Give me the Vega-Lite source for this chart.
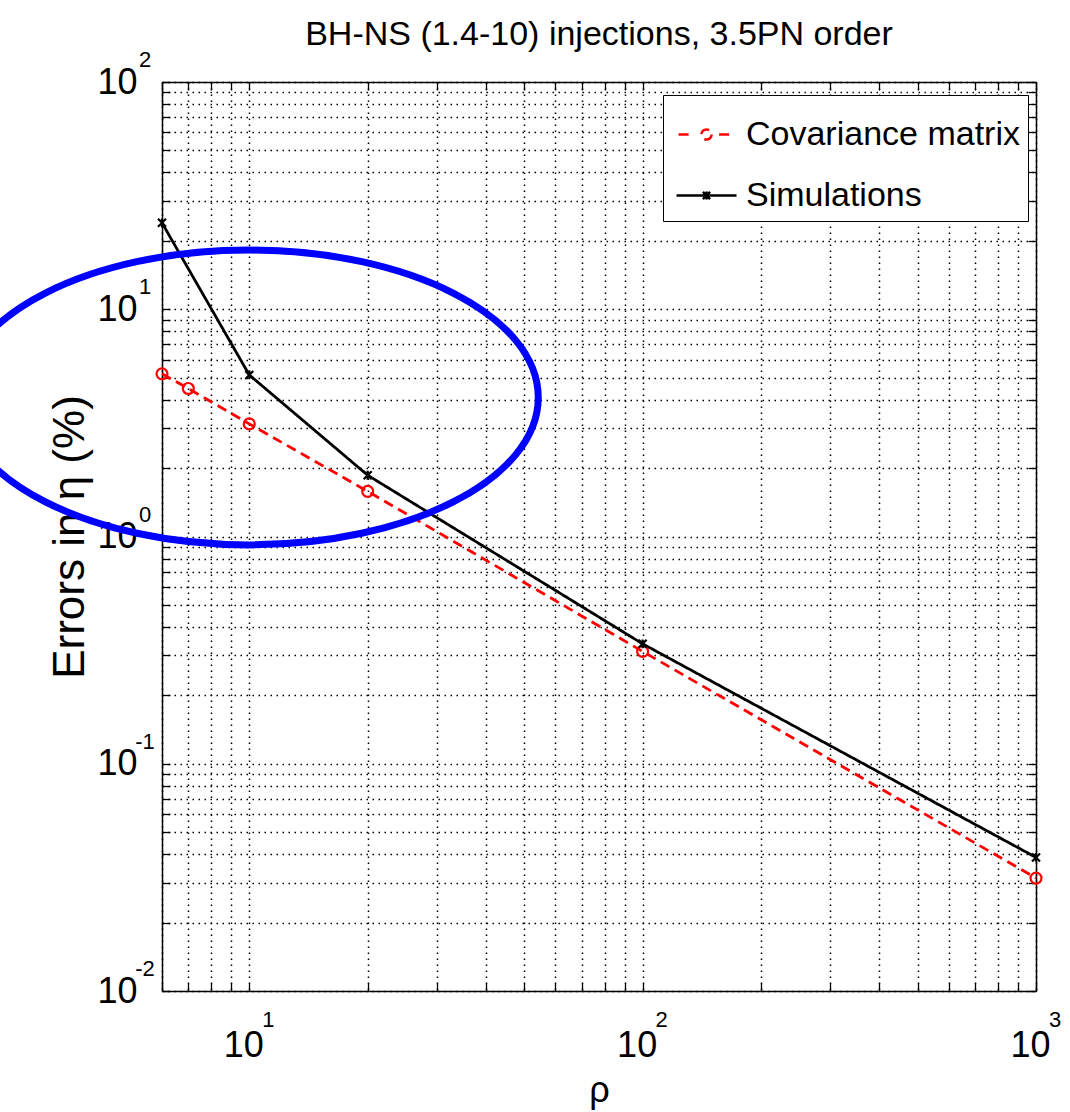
{
  "$schema": "https://vega.github.io/schema/vega-lite/v6.json",
  "autosize": "none",
  "width": 874,
  "height": 909,
  "padding": {"left": 162, "top": 82, "right": 34, "bottom": 121},
  "background": "white",
  "title": {"text": "BH-NS (1.4-10) injections, 3.5PN order", "font": "Liberation Sans", "fontSize": 34, "fontWeight": "normal", "color": "black", "anchor": "middle", "frame": "group", "baseline": "bottom", "offset": 26, "dy": 63},
  "config": {
    "view": {"stroke": null},
    "font": "Liberation Sans",
    "axis": {"labelFont": "Liberation Sans", "titleFont": "Liberation Sans", "labelColor": "black", "titleColor": "black", "titleFontWeight": "normal", "domainColor": "black", "domainWidth": 1.5, "tickColor": "black", "tickWidth": 1.3, "gridColor": "black", "gridOpacity": 1, "gridDash": [1.5, 4.5], "gridWidth": 1.5},
    "legend": {"labelFont": "Liberation Sans"}
  },
  "datasets": {
    "series": [
      {"rho": 6, "err": 5.2, "series": "Covariance matrix"},
      {"rho": 7, "err": 4.48, "series": "Covariance matrix"},
      {"rho": 10, "err": 3.13, "series": "Covariance matrix"},
      {"rho": 20, "err": 1.58, "series": "Covariance matrix"},
      {"rho": 100, "err": 0.312, "series": "Covariance matrix"},
      {"rho": 1000, "err": 0.0314, "series": "Covariance matrix"},
      {"rho": 6, "err": 24.0, "series": "Simulations"},
      {"rho": 10, "err": 5.14, "series": "Simulations"},
      {"rho": 20, "err": 1.86, "series": "Simulations"},
      {"rho": 100, "err": 0.337, "series": "Simulations"},
      {"rho": 1000, "err": 0.0387, "series": "Simulations"}
    ],
    "xexp": [{"rho": 10, "e": "1"}, {"rho": 100, "e": "2"}, {"rho": 1000, "e": "3"}],
    "yexp": [{"err": 0.01, "e": "-2"}, {"err": 0.1, "e": "-1"}, {"err": 1, "e": "0"}, {"err": 10, "e": "1"}, {"err": 100, "e": "2"}],
    "circle": [{"rho": 10, "err": 4.09}]
  },
  "resolve": {"scale": {"x": "shared", "y": "shared"}, "axis": {"x": "independent", "y": "independent"}},
  "layer": [
    {
      "data": {"name": "series"},
      "mark": {"type": "point", "opacity": 0},
      "encoding": {
        "x": {"field": "rho", "type": "quantitative", "scale": {"type": "log", "domain": [6, 1000], "nice": false},
          "axis": {"orient": "top", "labels": false, "grid": false, "title": null, "values": [6,7,8,9,10,20,30,40,50,60,70,80,90,100,200,300,400,500,600,700,800,900,1000], "tickSize": -8}},
        "y": {"field": "err", "type": "quantitative", "scale": {"type": "log", "domain": [0.01, 100], "nice": false},
          "axis": {"orient": "right", "labels": false, "grid": false, "title": null, "values": [0.01,0.02,0.03,0.04,0.05,0.06,0.07,0.08,0.09,0.1,0.2,0.3,0.4,0.5,0.6,0.7,0.8,0.9,1,2,3,4,5,6,7,8,9,10,20,30,40,50,60,70,80,90,100], "tickSize": -8}}
      }
    },
    {
      "data": {"name": "series"},
      "mark": {"type": "line", "strokeWidth": 2.8},
      "encoding": {
        "x": {"field": "rho", "type": "quantitative",
          "axis": {"orient": "bottom", "grid": true, "title": "ρ", "titleFontSize": 36, "titlePadding": 10, "values": [6,7,8,9,10,20,30,40,50,60,70,80,90,100,200,300,400,500,600,700,800,900,1000], "tickSize": -8, "labelFontSize": 36, "labelPadding": 45, "labelBaseline": "top", "labelOffset": -6, "labelExpr": "indexof([10,100,1000], datum.value) >= 0 ? '10' : ''", "labelOverlap": false, "labelFlush": false}},
        "y": {"field": "err", "type": "quantitative",
          "axis": {"orient": "left", "grid": true, "title": "Errors in η (%)", "titleFontSize": 44, "titlePadding": 4, "values": [0.01,0.02,0.03,0.04,0.05,0.06,0.07,0.08,0.09,0.1,0.2,0.3,0.4,0.5,0.6,0.7,0.8,0.9,1,2,3,4,5,6,7,8,9,10,20,30,40,50,60,70,80,90,100], "tickSize": -8, "labelFontSize": 36, "labelPadding": 33, "labelBaseline": "middle", "labelExpr": "indexof([0.01,0.1,1,10,100], datum.value) >= 0 ? '10' : ''", "labelOverlap": false, "labelFlush": false}},
        "color": {"field": "series", "type": "nominal", "scale": {"domain": ["Covariance matrix", "Simulations"], "range": ["#ff0000", "#000000"]},
          "legend": {"title": null, "orient": "none", "legendX": 501, "legendY": 13, "fillColor": "white", "strokeColor": "black", "padding": 8, "symbolSize": 3600, "symbolStrokeWidth": 2, "symbolOffset": 4, "labelFontSize": 34, "labelOffset": 8, "labelLimit": 500, "rowPadding": 12, "labelColor": "black",
            "encode": {"symbols": {"update": {
              "shape": {"signal": "datum.value === 'Covariance matrix' ? 'M -0.93 0 L -0.42 0 M 0.42 0 L 0.93 0 M 0.17 0 C 0.17 0.094 0.094 0.17 0 0.17 C -0.094 0.17 -0.17 0.094 -0.17 0 C -0.17 -0.094 -0.094 -0.17 0 -0.17 C 0.094 -0.17 0.17 -0.094 0.17 0 Z' : 'M -1 0 L 1 0 M -0.12 -0.12 L 0.12 0.12 M -0.12 0.12 L 0.12 -0.12 M 0 -0.13 L 0 0.13'"},
              "fill": {"value": "transparent"},
              "strokeDash": {"value": [1, 0]},
              "strokeWidth": {"value": 2.5}
            }}}}},
        "strokeDash": {"field": "series", "type": "nominal", "scale": {"domain": ["Covariance matrix", "Simulations"], "range": [[10, 6], [1, 0]]}, "legend": null}
      }
    },
    {
      "data": {"name": "series"},
      "transform": [{"filter": "datum.series === 'Covariance matrix'"}],
      "mark": {"type": "point", "shape": "circle", "size": 120, "filled": false, "stroke": "#ff0000", "strokeWidth": 2.2, "opacity": 1},
      "encoding": {
        "x": {"field": "rho", "type": "quantitative", "axis": null},
        "y": {"field": "err", "type": "quantitative", "axis": null}
      }
    },
    {
      "data": {"name": "series"},
      "transform": [{"filter": "datum.series === 'Simulations'"}],
      "mark": {"type": "point", "shape": "M -1 -1 L 1 1 M -1 1 L 1 -1 M 0 -1.1 L 0 1.1", "size": 64, "filled": false, "stroke": "#000000", "strokeWidth": 2.2, "opacity": 1},
      "encoding": {
        "x": {"field": "rho", "type": "quantitative", "axis": null},
        "y": {"field": "err", "type": "quantitative", "axis": null}
      }
    },
    {
      "data": {"name": "xexp"},
      "mark": {"type": "text", "fontSize": 22, "font": "Liberation Sans", "color": "black", "align": "center", "baseline": "alphabetic", "dx": 19, "dy": 36},
      "encoding": {
        "x": {"field": "rho", "type": "quantitative", "axis": null},
        "y": {"datum": 0.01, "type": "quantitative", "axis": null},
        "text": {"field": "e"}
      }
    },
    {
      "data": {"name": "yexp"},
      "mark": {"type": "text", "fontSize": 22, "font": "Liberation Sans", "color": "black", "align": "center", "baseline": "alphabetic", "dx": -17, "dy": -15},
      "encoding": {
        "x": {"datum": 6, "type": "quantitative", "axis": null},
        "y": {"field": "err", "type": "quantitative", "axis": null},
        "text": {"field": "e"}
      }
    },
    {
      "data": {"name": "circle"},
      "mark": {"type": "point", "shape": "M 1 0 C 1 0.2817 0.5523 0.51 0 0.51 C -0.5523 0.51 -1 0.2817 -1 0 C -1 -0.2817 -0.5523 -0.51 0 -0.51 C 0.5523 -0.51 1 -0.2817 1 0 Z", "size": 334084, "filled": false, "stroke": "#0000ff", "strokeWidth": 7, "opacity": 1, "clip": false},
      "encoding": {
        "x": {"field": "rho", "type": "quantitative", "axis": null},
        "y": {"field": "err", "type": "quantitative", "axis": null}
      }
    }
  ]
}
